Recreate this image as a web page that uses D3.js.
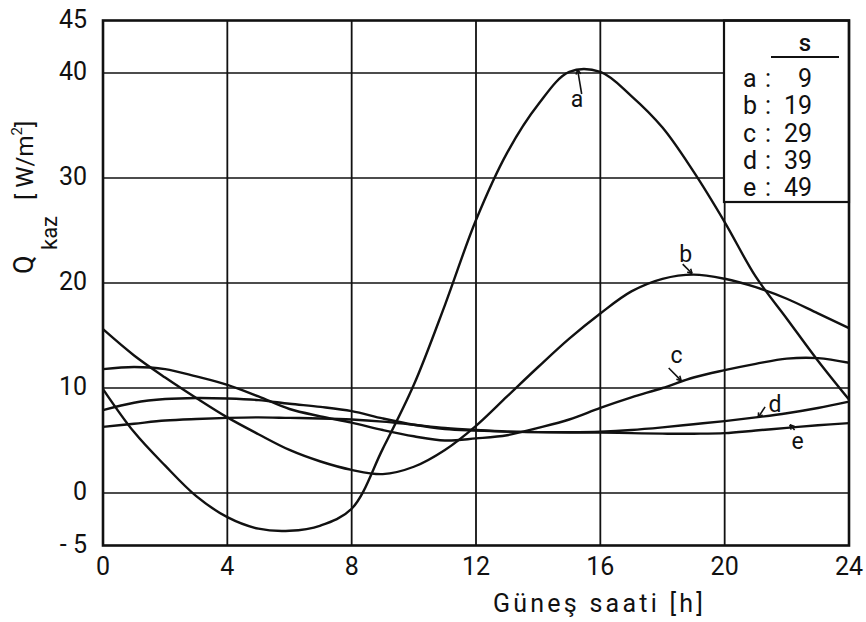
<!DOCTYPE html>
<html><head><meta charset="utf-8">
<script src="https://cdn.jsdelivr.net/npm/d3@7/dist/d3.min.js"></script>
<style>
body{margin:0;background:#fff}
text{font-family:Roboto,"DejaVu Sans",sans-serif;fill:#111}
</style>
</head><body>
<svg id="chart" width="866" height="622"></svg>
<script>
// ---- data ----
const hours = [0,1,2,3,4,5,6,7,8,9,10,11,12,13,14,15,16,17,18,19,20,21,22,23,24];
const seriesA = [9.9,5.8,2.6,-0.3,-2.3,-3.4,-3.6,-3.1,-1.5,4.2,10.3,17.9,26.0,32.4,37.0,40.1,40.1,37.8,34.8,30.6,25.8,20.6,16.6,12.6,8.9];
const seriesB = [15.6,13.1,11.0,9.05,7.2,5.6,4.1,3.0,2.2,1.8,2.5,4.1,6.4,9.2,12.0,14.7,17.1,19.2,20.4,20.8,20.4,19.6,18.5,17.1,15.7];
const seriesC = [11.8,12.0,11.8,11.1,10.3,9.2,8.0,7.3,6.7,6.0,5.4,5.0,5.2,5.5,6.2,7.0,8.1,9.1,10.0,11.0,11.7,12.3,12.8,12.85,12.4];
const seriesD = [7.9,8.6,8.95,9.05,9.0,8.85,8.5,8.2,7.8,7.1,6.5,6.1,5.95,5.85,5.8,5.8,5.85,6.0,6.25,6.55,6.85,7.2,7.6,8.1,8.7];
const seriesE = [6.3,6.6,6.9,7.05,7.15,7.2,7.15,7.1,7.0,6.8,6.5,6.2,6.0,5.85,5.8,5.75,5.75,5.7,5.65,5.65,5.7,5.95,6.2,6.45,6.65];
const seriesNames = ["a","b","c","d","e"];
const sValues = ["9","19","29","39","49"];
const xTicks = [0,4,8,12,16,20,24];
const yTicks = [-5,0,10,20,30,40,45];
const yTickLabels = ["- 5","0","10","20","30","40","45"];
const yGrid = [0,10,20,30,40];
const xGrid = [4,8,12,16,20];
// curve label annotations in data units: [name, textX, textY, arrowFromX, arrowFromY, arrowToX, arrowToY]
const annotations = [
  ["a",15.25,36.8, 15.40,38.0, 15.27,40.3],
  ["b",18.75,22.0, 18.65,21.8, 18.95,20.9],
  ["c",18.45,12.4, 18.20,11.9, 18.60,10.7],
  ["d",21.62,7.7, 21.30,8.2, 21.08,7.2],
  ["e",22.35,4.2, 22.25,6.0, 22.10,6.5]
];

const svg = d3.select("#chart");
const x = d3.scaleLinear().domain([0,24]).range([103,849]);
const y = d3.scaleLinear().domain([-5,45]).range([545.5,20.5]);
const ink = "#111";

// grid
svg.append("g").selectAll("line").data(yGrid).join("line")
  .attr("x1",x(0)).attr("x2",x(24)).attr("y1",d=>y(d)).attr("y2",d=>y(d))
  .attr("stroke",ink).attr("stroke-width",1.6);
svg.append("g").selectAll("line").data(xGrid).join("line")
  .attr("y1",y(-5)).attr("y2",y(45)).attr("x1",d=>x(d)).attr("x2",d=>x(d))
  .attr("stroke",ink).attr("stroke-width",1.8);

// curves
const allSeries = [seriesA,seriesB,seriesC,seriesD,seriesE];
const line = d3.line().x((d,i)=>x(hours[i])).y(d=>y(d)).curve(d3.curveCatmullRom.alpha(0.5));
svg.append("g").selectAll("path").data(allSeries).join("path")
  .attr("d",d=>line(d)).attr("fill","none").attr("stroke",ink)
  .attr("stroke-width",2.4).attr("stroke-linejoin","round");

// legend box
const lx0 = 724, ly0 = y(45), lx1 = x(24), ly1 = 202;
svg.append("rect").attr("x",lx0).attr("y",ly0).attr("width",lx1-lx0).attr("height",ly1-ly0)
  .attr("fill","#fff").attr("stroke",ink).attr("stroke-width",2.2);
svg.append("text").attr("x",805).attr("y",51).attr("text-anchor","middle")
  .attr("font-size",24).attr("font-weight",500).text("s");
svg.append("line").attr("x1",771).attr("x2",839).attr("y1",57).attr("y2",57)
  .attr("stroke",ink).attr("stroke-width",2);
const lg = svg.append("g").selectAll("g").data(seriesNames).join("g")
  .attr("transform",(d,i)=>`translate(0,${87+i*27.3})`);
lg.append("text").attr("x",743).attr("font-size",25).text(d=>d);
lg.append("text").attr("x",768).attr("text-anchor","middle").attr("font-size",25).text(":");
lg.append("text").attr("x",812).attr("text-anchor","end").attr("font-size",25).text((d,i)=>sValues[i]);

// frame
svg.append("rect").attr("x",x(0)).attr("y",y(45)).attr("width",x(24)-x(0)).attr("height",y(-5)-y(45))
  .attr("fill","none").attr("stroke",ink).attr("stroke-width",2.6);

// tick labels
svg.append("g").selectAll("text").data(yTicks).join("text")
  .attr("x",87).attr("y",d=>y(d)-2).attr("dy","0.36em").attr("text-anchor","end")
  .attr("font-size",25).text((d,i)=>yTickLabels[i]);
svg.append("g").selectAll("text").data(xTicks).join("text")
  .attr("x",d=>x(d)).attr("y",575).attr("text-anchor","middle")
  .attr("font-size",25).text(d=>String(d));

// axis titles
svg.append("text").attr("x",493).attr("y",612).attr("font-size",25)
  .attr("textLength",210).attr("lengthAdjust","spacing").text("Güneş saati [h]");
svg.append("text").attr("transform","translate(33,274) rotate(-90)").attr("font-size",27).text("Q");
svg.append("text").attr("transform","translate(57,250) rotate(-90)").attr("font-size",22).text("kaz");
const yl = svg.append("text").attr("transform","translate(33,200) rotate(-90)").attr("font-size",24);
yl.append("tspan").text("[ W/m");
yl.append("tspan").attr("dy",-11).attr("font-size",15).text("2");
yl.append("tspan").attr("dy",11).text("]");

// curve annotations
const ann = svg.append("g");
annotations.forEach(([name,tx,ty,ax0,ay0,ax1,ay1])=>{
  ann.append("text").attr("x",x(tx)).attr("y",y(ty)).attr("text-anchor","middle")
    .attr("font-size",23).text(name);
  const X0=x(ax0),Y0=y(ay0),X1=x(ax1),Y1=y(ay1);
  ann.append("line").attr("x1",X0).attr("y1",Y0).attr("x2",X1).attr("y2",Y1)
    .attr("stroke",ink).attr("stroke-width",1.6);
  const ang = Math.atan2(Y1-Y0,X1-X0), L=5;
  [0.5,-0.5].forEach(s=>{
    ann.append("line").attr("x1",X1).attr("y1",Y1)
      .attr("x2",X1-L*Math.cos(ang+s)).attr("y2",Y1-L*Math.sin(ang+s))
      .attr("stroke",ink).attr("stroke-width",1.6);
  });
});
</script>
</body></html>
